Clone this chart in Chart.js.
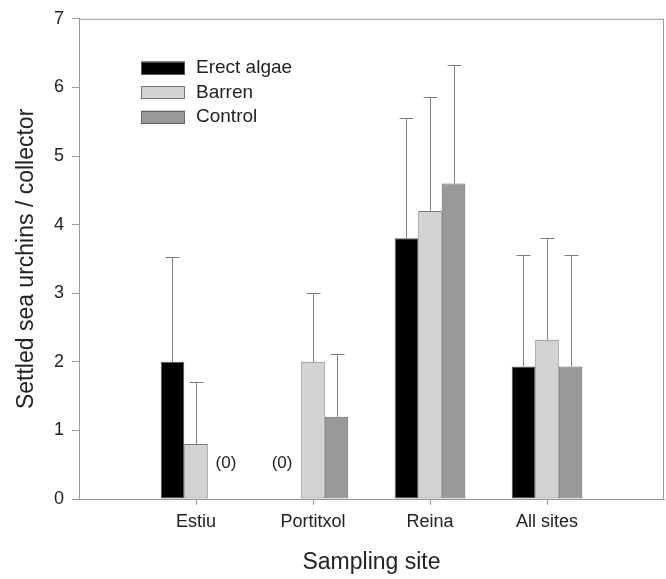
<!DOCTYPE html>
<html><head><meta charset="utf-8">
<script src="https://cdn.jsdelivr.net/npm/chart.js@4.4.0/dist/chart.umd.min.js"></script>
<style>html,body{margin:0;padding:0;background:#fff}#wrap{width:666px;height:579px}</style>
</head><body><div id="wrap"><canvas id="c" width="666" height="579"></canvas></div>
<script>
const categories = ['Estiu', 'Portitxol', 'Reina', 'All sites'];
const seriesNames = ['Erect algae', 'Barren', 'Control'];
const erectAlgae = [2.0, 0, 3.8, 1.93];
const barren = [0.8, 2.0, 4.2, 2.32];
const control = [0, 1.2, 4.6, 1.93];
const erectAlgaeErr = [1.53, 0, 1.76, 1.63];
const barrenErr = [0.91, 1.0, 1.66, 1.48];
const controlErr = [0, 0.91, 1.73, 1.63];
const yTicks = [0, 1, 2, 3, 4, 5, 6, 7];
const zeroLabel = '(0)';

const fills = ['#000000', '#d3d3d3', '#999999'];
const borders = ['#555555', '#777777', '#666666'];
const TEXT = '#222222';
const AXIS = '#9a9a9a';
const FONT = "'Liberation Sans', Arial, sans-serif";

const pad = arr => [null, ...arr, null];
const labels = ['', ...categories, ''];
const values = [erectAlgae, barren, control];
const errs = [erectAlgaeErr, barrenErr, controlErr];

const datasets = values.map((v, i) => ({
  label: seriesNames[i],
  data: pad(v),
  errors: pad(errs[i]),
  backgroundColor: fills[i],
  borderColor: borders[i],
  borderWidth: ctx => (ctx.raw === 0 ? 0 : 1),
  borderSkipped: false,
  categoryPercentage: 0.603,
  barPercentage: 1.0
}));

const overlay = {
  id: 'overlay',
  afterDatasetsDraw(chart) {
    const {ctx, chartArea: a, scales: {x, y}} = chart;
    ctx.save();
    ctx.strokeStyle = AXIS;
    ctx.lineWidth = 1;
    ctx.strokeRect(a.left + 0.5, a.top + 0.5, a.right - a.left - 1, a.bottom - a.top);
    // category tick marks
    ctx.beginPath();
    categories.forEach((c, i) => {
      const px = Math.round(x.getPixelForValue(i + 1)) + 0.5;
      ctx.moveTo(px, a.bottom);
      ctx.lineTo(px, a.bottom + 6);
    });
    ctx.stroke();
    chart.data.datasets.forEach((ds, di) => {
      const meta = chart.getDatasetMeta(di);
      meta.data.forEach((bar, i) => {
        const v = ds.data[i];
        if (v === null || v === undefined) return;
        if (v === 0) {
          ctx.fillStyle = TEXT;
          ctx.font = '17px ' + FONT;
          ctx.textBaseline = 'middle';
          const yy = y.getPixelForValue(0.52);
          if (di === chart.data.datasets.length - 1) {
            ctx.textAlign = 'left';
            ctx.fillText(zeroLabel, bar.x - 4, yy);
          } else {
            ctx.textAlign = 'right';
            ctx.fillText(zeroLabel, bar.x + 3, yy);
          }
          return;
        }
        const e = ds.errors[i];
        if (!e) return;
        const bx = Math.round(bar.x) + 0.5;
        const yTop = Math.round(y.getPixelForValue(v + e)) + 0.5;
        const yBar = y.getPixelForValue(v);
        ctx.strokeStyle = '#808080';
        ctx.lineWidth = 1;
        ctx.beginPath();
        ctx.moveTo(bx, yBar);
        ctx.lineTo(bx, yTop);
        ctx.moveTo(bx - 7, yTop);
        ctx.lineTo(bx + 7, yTop);
        ctx.stroke();
      });
    });
    const lx = 141, lw = 44, lh = 13, rowY = [68, 92.5, 117];
    chart.data.datasets.forEach((ds, di) => {
      const cy = rowY[di];
      ctx.fillStyle = ds.backgroundColor;
      ctx.fillRect(lx, cy - lh / 2, lw, lh);
      ctx.strokeStyle = ds.borderColor;
      ctx.strokeRect(lx + 0.5, Math.round(cy - lh / 2) + 0.5, lw - 1, lh - 1);
      ctx.fillStyle = TEXT;
      ctx.font = '19px ' + FONT;
      ctx.textAlign = 'left';
      ctx.textBaseline = 'middle';
      ctx.fillText(ds.label, 196, cy);
    });
    ctx.restore();
  }
};

new Chart(document.getElementById('c'), {
  type: 'bar',
  data: { labels, datasets },
  plugins: [overlay],
  options: {
    responsive: false,
    animation: false,
    devicePixelRatio: 1,
    layout: { padding: { top: 16, right: 2, left: 0, bottom: 0 } },
    plugins: { legend: { display: false }, tooltip: { enabled: false } },
    scales: {
      x: {
        offset: false,
        grid: {
          offset: false,
          drawOnChartArea: false,
          drawTicks: true,
          tickLength: 6,
          color: ctx => (ctx.index === 0 || ctx.index === labels.length - 1) ? 'rgba(0,0,0,0)' : AXIS,
          tickColor: ctx => (ctx.index === 0 || ctx.index === labels.length - 1) ? 'rgba(0,0,0,0)' : AXIS
        },
        border: { display: true, color: AXIS },
        ticks: { color: TEXT, font: { family: FONT, size: 18 }, padding: 6, maxRotation: 0, autoSkip: false },
        title: { display: true, text: 'Sampling site', color: TEXT, font: { family: FONT, size: 23 }, padding: { top: 0, bottom: 3 } },
        afterFit(s) { s.height = 80; s.paddingLeft = 0; s.paddingRight = 0; }
      },
      y: {
        min: 0, max: 7,
        afterBuildTicks(s) { s.ticks = yTicks.map(v => ({ value: v })); },
        grid: { drawOnChartArea: false, drawTicks: true, tickLength: 7, color: AXIS, tickColor: AXIS },
        border: { display: true, color: AXIS },
        ticks: { color: TEXT, font: { family: FONT, size: 18 }, padding: 8 },
        title: { display: true, text: 'Settled sea urchins / collector', color: TEXT, font: { family: FONT, size: 23 }, padding: { top: 13, bottom: 0 } },
        afterFit(s) { s.width = 79; }
      }
    }
  }
});
</script>
</body></html>
